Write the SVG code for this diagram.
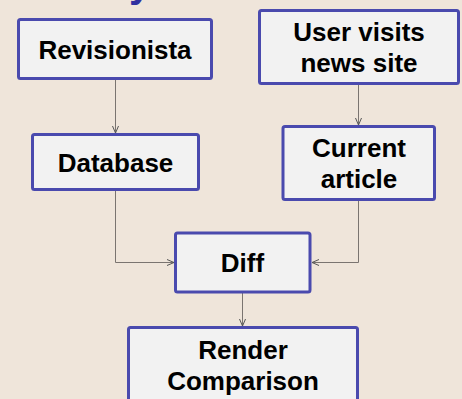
<svg xmlns="http://www.w3.org/2000/svg" width="462" height="399" viewBox="0 0 462 399">
<style>
.box{fill:#f2f2f2;stroke:#4a4aae;stroke-width:3}
.lbl{font-family:"Liberation Sans",Arial,sans-serif;font-weight:bold;font-size:26px;fill:#000;text-anchor:middle}
.con{fill:none;stroke:#7a7470;stroke-width:1}
</style>
<defs>
<marker id="arr" viewBox="0 0 10 10" refX="10" refY="5" markerWidth="10" markerHeight="10" markerUnits="userSpaceOnUse" orient="auto">
<path d="M3,2 L10,5 L3,8" fill="none" stroke="#555" stroke-width="1"/>
</marker>
</defs>
<rect width="462" height="399" fill="#efe5da"/>
<text x="129" y="-3" font-family="Liberation Sans,Arial,sans-serif" font-weight="bold" font-size="40" fill="#3030a0">y</text>
<g id="connectors">
<path class="con" d="M115.5,80 V133" marker-end="url(#arr)"/>
<path class="con" d="M358.5,85 V125" marker-end="url(#arr)"/>
<path class="con" d="M115.5,191 V262.5 H174" marker-end="url(#arr)"/>
<path class="con" d="M358.5,201 V262.5 H312" marker-end="url(#arr)"/>
<path class="con" d="M242.5,293 V326" marker-end="url(#arr)"/>
</g>
<g id="revisionista">
<rect class="box" x="18.5" y="19.5" width="193" height="59" rx="2"/>
<text class="lbl" x="115" y="58.5">Revisionista</text>
</g>
<g id="user">
<rect class="box" x="259.5" y="10.5" width="199" height="73" rx="2"/>
<text class="lbl" x="359" y="40.5">User visits</text>
<text class="lbl" x="359" y="72">news site</text>
</g>
<g id="database">
<rect class="box" x="32.5" y="134.5" width="166" height="55" rx="2"/>
<text class="lbl" x="115.5" y="171.5">Database</text>
</g>
<g id="current">
<rect class="box" x="283" y="126.5" width="151.5" height="73" rx="2"/>
<text class="lbl" x="359" y="156.5">Current</text>
<text class="lbl" x="359" y="188">article</text>
</g>
<g id="diff">
<rect class="box" x="175.5" y="233" width="134.5" height="59" rx="2"/>
<text class="lbl" x="242.5" y="271.5">Diff</text>
</g>
<g id="render">
<rect class="box" x="128.5" y="327.5" width="229" height="80" rx="2"/>
<text class="lbl" x="243" y="359">Render</text>
<text class="lbl" x="243" y="390">Comparison</text>
</g>
</svg>
